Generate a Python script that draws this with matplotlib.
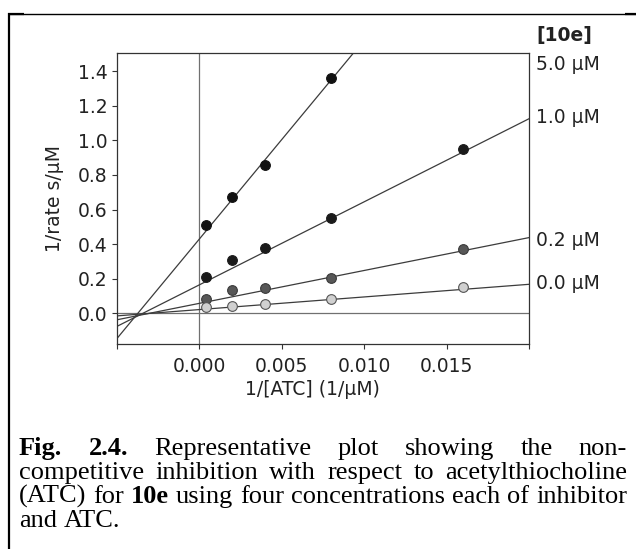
import matplotlib
matplotlib.use('Agg')
import matplotlib.pyplot as plt
from matplotlib.lines import Line2D

# ---------------- data ----------------
inv_atc = [0.0004, 0.002, 0.004, 0.008, 0.016]          # 1/[ATC] (1/uM)
series_names = ['5.0 µM', '1.0 µM', '0.2 µM', '0.0 µM']
rate_5_0 = [0.51, 0.67, 0.86, 1.36]                      # last point off-scale
rate_1_0 = [0.21, 0.31, 0.38, 0.55, 0.95]
rate_0_2 = [0.085, 0.135, 0.145, 0.205, 0.37]
rate_0_0 = [0.035, 0.045, 0.052, 0.083, 0.155]
fit_intercept = [0.43, 0.165, 0.058, 0.022]
fit_slope = [115.0, 48.0, 19.0, 7.3]
x_ticks = [-0.005, 0.0, 0.005, 0.010, 0.015, 0.020]
x_ticklabels = ['', '0.000', '0.005', '0.010', '0.015', '']
y_ticks = [0.0, 0.2, 0.4, 0.6, 0.8, 1.0, 1.2, 1.4]
y_ticklabels = ['0.0', '0.2', '0.4', '0.6', '0.8', '1.0', '1.2', '1.4']
legend_title = '[10e]'
x_label = '1/[ATC] (1/µM)'
y_label = '1/rate s/µM'
caption_lines = [
    [('Fig.', 'bold'), ('2.4.', 'bold'), ('Representative', 'normal'), ('plot', 'normal'),
     ('showing', 'normal'), ('the', 'normal'), ('non-', 'normal')],
    [('competitive', 'normal'), ('inhibition', 'normal'), ('with', 'normal'), ('respect', 'normal'),
     ('to', 'normal'), ('acetylthiocholine', 'normal')],
    [('(ATC)', 'normal'), ('for', 'normal'), ('10e', 'bold'), ('using', 'normal'), ('four', 'normal'),
     ('concentrations', 'normal'), ('each', 'normal'), ('of', 'normal'), ('inhibitor', 'normal')],
    [('and', 'normal'), ('ATC.', 'normal')],
]

# ---------------- styles ----------------
W, H = 636, 549
sans = ['DejaVu Sans']
serif = ['Liberation Serif', 'DejaVu Serif']
fs = 13.5
marker_face = ['#111111', '#1a1a1a', '#575757', '#d0d0d0']
marker_edge = ['#111111', '#1a1a1a', '#3a3a3a', '#555555']
label_y_px = [64, 118, 240, 283]   # vertical centres of the right-hand labels (pixels)
title_y_px = 36

fig = plt.figure(figsize=(W / 100, H / 100), dpi=100)
fig.patch.set_facecolor('white')

ax_l, ax_r, ax_t, ax_b = 117, 529, 53, 344
ax = fig.add_axes([ax_l / W, 1 - ax_b / H, (ax_r - ax_l) / W, (ax_b - ax_t) / H])

ax.set_xlim(-0.005, 0.020)
ax.set_ylim(-0.177, 1.505)

# zero lines
ax.axhline(0, color='#707070', lw=0.9, zorder=1)
ax.axvline(0, color='#707070', lw=0.9, zorder=1)

# fitted lines
for b, m in zip(fit_intercept, fit_slope):
    ax.axline((0.0, b), slope=m, color='#3c3c3c', lw=0.9, zorder=2)

all_rates = [rate_5_0, rate_1_0, rate_0_2, rate_0_0]
for i, r in enumerate(all_rates):
    ax.plot(inv_atc[:len(r)], r, linestyle='none', marker='o', ms=7.0,
            mfc=marker_face[i], mec=marker_edge[i], mew=0.8, zorder=3, clip_on=True)

for s in ax.spines.values():
    s.set_color('#333333')
    s.set_linewidth(0.9)

ax.set_xticks(x_ticks)
ax.set_xticklabels(x_ticklabels)
ax.set_yticks(y_ticks)
ax.set_yticklabels(y_ticklabels)
ax.tick_params(direction='out', length=3.5, width=0.8, color='#333333',
               labelsize=fs, labelcolor='#222222')
ax.tick_params(axis='x', pad=6)
ax.tick_params(axis='y', pad=3.5)
for t in ax.get_xticklabels() + ax.get_yticklabels():
    t.set_family(sans)

ax.set_xlabel(x_label, fontsize=fs, family=sans, color='#222222')
ax.set_ylabel(y_label, fontsize=fs, family=sans, color='#222222')
ax.xaxis.set_label_coords((312 - ax_l) / (ax_r - ax_l), -(380 - ax_b) / (ax_b - ax_t))
ax.yaxis.set_label_coords(-(ax_l - 64) / (ax_r - ax_l), 0.5)

# right-hand labels
lx = 536 / W
fig.text(lx, 1 - title_y_px / H, legend_title, fontsize=fs, family=sans, weight='bold',
         va='center', ha='left', color='#222222')
for name, ypx in zip(series_names, label_y_px):
    fig.text(lx, 1 - ypx / H, name, fontsize=fs, family=sans, va='center', ha='left',
             color='#222222')

# frame around figure+caption
fig.add_artist(Line2D([9 / W, 9 / W], [0, 1 - 13 / H], transform=fig.transFigure,
                      color='black', lw=1.6, solid_capstyle='butt'))
fig.add_artist(Line2D([8 / W, 1], [1 - 13.5 / H, 1 - 13.5 / H], transform=fig.transFigure,
                      color='black', lw=1.0, solid_capstyle='butt'))
fig.add_artist(Line2D([8 / W, 24 / W], [1 - 14.2 / H, 1 - 14.2 / H], transform=fig.transFigure,
                      color='black', lw=1.6, solid_capstyle='butt'))
fig.add_artist(Line2D([625 / W, 1], [1 - 14.2 / H, 1 - 14.2 / H], transform=fig.transFigure,
                      color='black', lw=1.6, solid_capstyle='butt'))

# justified caption
cap_fs = 19
renderer = fig.canvas.get_renderer()


def word_width(s, weight):
    t = fig.text(0, 0, s, fontsize=cap_fs, family=serif, weight=weight)
    w = t.get_window_extent(renderer=renderer).width
    t.remove()
    return w


x_left, x_right = 19, 627
baselines = [455, 479, 503, 527]
space_px = 0.25 * cap_fs * 100 / 72
for li, (words, ypx) in enumerate(zip(caption_lines, baselines)):
    widths = [word_width(w, wt) for w, wt in words]
    last = li == len(caption_lines) - 1
    if last or len(words) == 1:
        gap = space_px
    else:
        gap = (x_right - x_left - sum(widths)) / (len(words) - 1)
    x = x_left
    for (w, wt), ww in zip(words, widths):
        fig.text(x / W, 1 - ypx / H, w, fontsize=cap_fs, family=serif, weight=wt,
                 ha='left', va='baseline', color='black')
        x += ww + gap

fig.savefig('out.png', dpi=100, facecolor='white')
